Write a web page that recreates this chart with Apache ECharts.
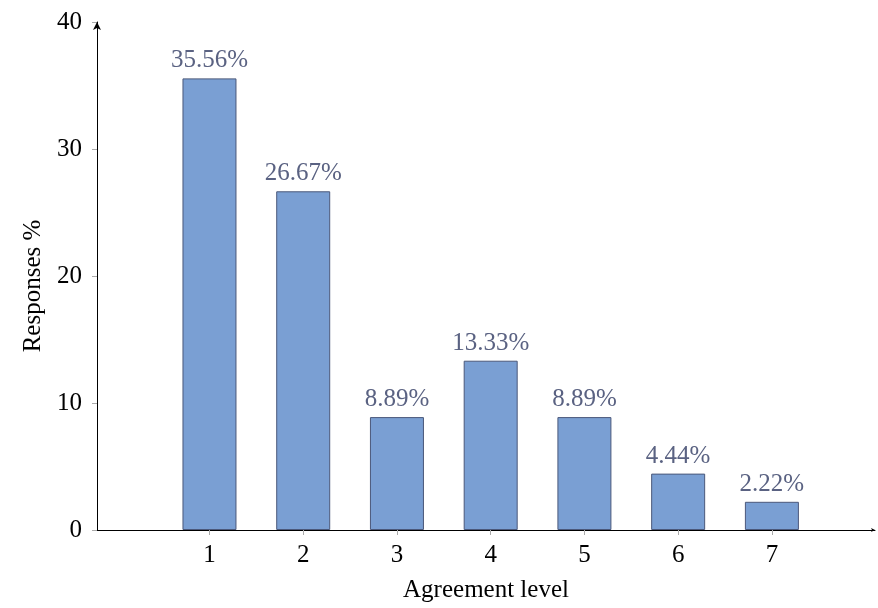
<!DOCTYPE html>
<html>
<head>
<meta charset="utf-8">
<script src="https://cdn.jsdelivr.net/npm/echarts@6/dist/echarts.min.js"></script>
<style>html,body{margin:0;padding:0;background:#fff}#c{width:878px;height:608px}</style>
</head>
<body>
<div id="c"></div>
<script>
const categories = [1, 2, 3, 4, 5, 6, 7];
const responses = [35.56, 26.67, 8.89, 13.33, 8.89, 4.44, 2.22];
const yTicks = [0, 10, 20, 30, 40];

const FONT = '"Liberation Serif", "DejaVu Serif", serif';
const chart = echarts.init(document.getElementById('c'));
chart.setOption({
  animation: false,
  grid: { left: 97, right: 3, top: 22, bottom: 78 },
  xAxis: {
    type: 'value', min: -0.2, max: 8.1,
    name: 'Agreement level', nameLocation: 'middle', nameGap: 48,
    nameTextStyle: { fontFamily: FONT, fontSize: 25, color: '#000' },
    axisLine: { show: true, onZero: false, lineStyle: { color: '#000', width: 1 }, symbol: ['none', 'arrow'], symbolSize: [3, 4] },
    axisTick: { show: true, length: 5, customValues: categories, lineStyle: { color: '#aaa' } },
    axisLabel: { customValues: categories, margin: 13, fontFamily: FONT, fontSize: 25, color: '#000' },
    splitLine: { show: false }
  },
  yAxis: {
    type: 'value', min: 0, max: 40, interval: 10,
    name: 'Responses %', nameLocation: 'middle', nameGap: 48, nameRotate: 90,
    nameTextStyle: { fontFamily: FONT, fontSize: 25, color: '#000', padding: [0, 20, 0, 0] },
    axisLine: { show: true, onZero: false, lineStyle: { color: '#000', width: 1 }, symbol: ['none', 'arrow'], symbolSize: [6, 8] },
    axisTick: { show: true, length: 5, customValues: yTicks, lineStyle: { color: '#aaa' } },
    axisLabel: { customValues: yTicks, margin: 15, fontFamily: FONT, fontSize: 25, color: '#000' },
    splitLine: { show: false }
  },
  series: [{
    type: 'bar',
    barWidth: 54,
    data: categories.map((c, i) => [c, responses[i]]),
    itemStyle: { color: '#7a9fd3', borderColor: '#4b587a', borderWidth: 1 },
    label: {
      show: true, position: 'top', distance: 5,
      fontFamily: FONT, fontSize: 25, color: '#5a6282',
      formatter: p => p.value[1].toFixed(2) + '%'
    }
  }]
});
</script>
</body>
</html>
